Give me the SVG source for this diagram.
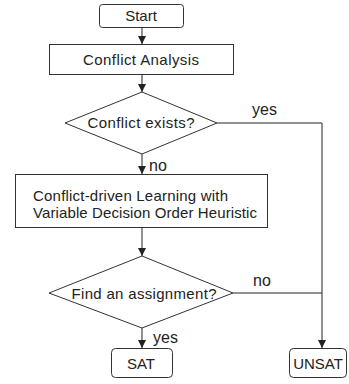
<svg xmlns="http://www.w3.org/2000/svg" width="349" height="384" viewBox="0 0 349 384">
<defs>
<marker id="ah" viewBox="0 0 8 8" refX="8" refY="4" markerWidth="8" markerHeight="8" markerUnits="userSpaceOnUse" orient="auto">
<path d="M0,0 L8,4 L0,8 z" fill="#222"/>
</marker>
</defs>
<style>
.s{fill:#fff;stroke:#333;stroke-width:1}
.t{font-family:"Liberation Sans",Arial,sans-serif;font-size:15px;fill:#222}
.l{font-size:16px}
.c{stroke:#222;stroke-width:1;fill:none}
</style>
<rect width="349" height="384" fill="#fff"/>
<g id="connectors">
<line class="c" x1="142" y1="27" x2="142" y2="44" marker-end="url(#ah)"/>
<line class="c" x1="142" y1="74" x2="142" y2="92" marker-end="url(#ah)"/>
<line class="c" x1="142" y1="154" x2="142" y2="174" marker-end="url(#ah)"/>
<line class="c" x1="142" y1="227" x2="142" y2="256" marker-end="url(#ah)"/>
<line class="c" x1="142" y1="328" x2="142" y2="348" marker-end="url(#ah)"/>
<polyline class="c" points="217,123 322,123 322,348" marker-end="url(#ah)"/>
<line class="c" x1="233" y1="293" x2="322" y2="293"/>
<text class="t l" x="252" y="115">yes</text>
<text class="t l" x="149" y="171">no</text>
<text class="t l" x="253" y="286">no</text>
<text class="t l" x="153" y="343">yes</text>
</g>
<g id="start">
<rect class="s" x="99.5" y="4.5" width="84" height="23" rx="3"/>
<text class="t" x="141" y="21" text-anchor="middle">Start</text>
</g>
<g id="analysis">
<rect class="s" x="49.5" y="44.5" width="184" height="30"/>
<text class="t" x="141" y="65" text-anchor="middle" textLength="116">Conflict Analysis</text>
</g>
<g id="exists">
<polygon class="s" points="142,92 217,123 142,154 65,123"/>
<text class="t" x="141" y="128" text-anchor="middle" textLength="107">Conflict exists?</text>
</g>
<g id="learning">
<rect class="s" x="15.5" y="174.5" width="252" height="53"/>
<text class="t" x="33" y="201" textLength="195">Conflict-driven Learning with</text>
<text class="t" x="33" y="218" textLength="224">Variable Decision Order Heuristic</text>
</g>
<g id="assign">
<polygon class="s" points="142,256 233,293 142,328 49,293"/>
<text class="t" x="144" y="299" text-anchor="middle" textLength="145">Find an assignment?</text>
</g>
<g id="sat">
<rect class="s" x="111.5" y="348.5" width="61" height="29" rx="4"/>
<text class="t" x="141" y="369" text-anchor="middle">SAT</text>
</g>
<g id="unsat">
<rect class="s" x="289.5" y="348.5" width="57" height="29" rx="4"/>
<text class="t" x="318" y="369" text-anchor="middle">UNSAT</text>
</g>
</svg>
